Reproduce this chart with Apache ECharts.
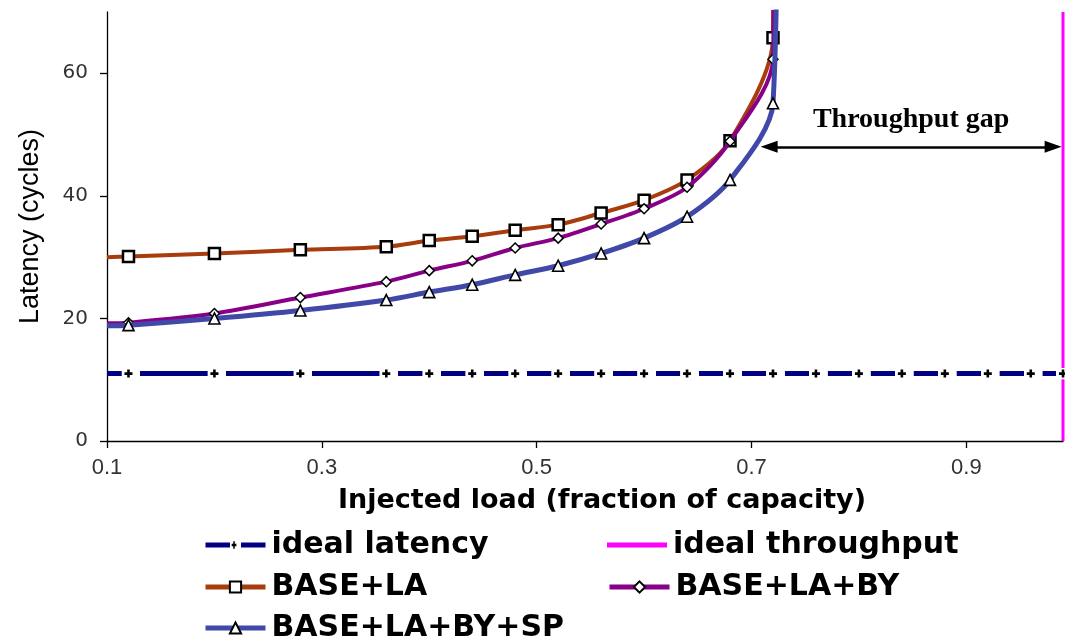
<!DOCTYPE html>
<html><head><meta charset="utf-8">
<script src="https://cdn.jsdelivr.net/npm/echarts@6/dist/echarts.min.js"></script>
<style>html,body{margin:0;padding:0;background:#fff}#c{width:1065px;height:643px}</style>
</head><body><div id="c"></div>
<script>
// ---- data ----
const xTicks = [0.1, 0.3, 0.5, 0.7, 0.9];
const yTicks = [0, 20, 40, 60];

const idealLatencyX = [0.1, 0.12, 0.2, 0.28, 0.36, 0.4, 0.44, 0.48, 0.52, 0.56, 0.6, 0.64, 0.68, 0.72, 0.76, 0.8, 0.84, 0.88, 0.92, 0.96, 0.99];
const idealLatencyY = [11, 11, 11, 11, 11, 11, 11, 11, 11, 11, 11, 11, 11, 11, 11, 11, 11, 11, 11, 11, 11];

const idealThroughputX = [0.99, 0.99];
const idealThroughputY = [0, 70];

const baseLaX = [0.1, 0.12, 0.2, 0.28, 0.36, 0.4, 0.44, 0.48, 0.52, 0.56, 0.6, 0.64, 0.68, 0.72, 0.7205];
const baseLaY = [30.0, 30.1, 30.6, 31.2, 31.7, 32.7, 33.4, 34.4, 35.3, 37.2, 39.3, 42.6, 49.0, 65.8, 100];

const baseLaByX = [0.1, 0.12, 0.2, 0.28, 0.36, 0.4, 0.44, 0.48, 0.52, 0.56, 0.6, 0.64, 0.68, 0.72, 0.7215];
const baseLaByY = [19.2, 19.3, 20.8, 23.4, 26.0, 27.8, 29.4, 31.5, 33.1, 35.4, 37.9, 41.4, 48.9, 62.3, 100];

const baseLaBySpX = [0.1, 0.12, 0.2, 0.28, 0.36, 0.4, 0.44, 0.48, 0.52, 0.56, 0.6, 0.64, 0.68, 0.72, 0.7245];
const baseLaBySpY = [18.8, 18.9, 20.0, 21.3, 23.0, 24.3, 25.5, 27.1, 28.6, 30.6, 33.1, 36.6, 42.6, 55.1, 100];

const gapArrowX = [0.7164, 0.9808];
const gapArrowY = 48;
const gapLabel = 'Throughput gap';

// ---- helpers ----
function pts(xs, ys, hideLast) {
  return xs.map((x, i) => {
    const p = { value: [x, ys[i]] };
    if (i === 0 || (hideLast && i === xs.length - 1)) p.symbol = 'none';
    return p;
  });
}
const plusSvg = '<svg xmlns="http://www.w3.org/2000/svg" width="19" height="12" viewBox="0 0 19 12"><rect width="19" height="12" fill="#ffffff"/><path d="M7 2V10M3 6H11" stroke="#000000" stroke-width="2.6"/></svg>';
const plusSymbol = 'image://data:image/svg+xml;charset=utf-8,' + encodeURIComponent(plusSvg);

const legendText = { fontFamily: 'DejaVu Sans', fontWeight: 'bold', fontSize: 30, color: '#000', lineHeight: 30, padding: [0, 0, 0, 1] };
function legendItem(name, left, top, icon) {
  const item = icon ? { name: name, icon: icon } : name;
  return {
    data: [item], orient: 'horizontal', left: left, top: top, padding: 0,
    itemWidth: 60, itemHeight: 14, selectedMode: false, symbolKeepAspect: true,
    textStyle: legendText, lineStyle: { width: 5 }
  };
}

const chart = echarts.init(document.getElementById('c'), null, { renderer: 'canvas' });
chart.setOption({
  animation: false,
  backgroundColor: '#ffffff',
  grid: { left: 107, right: 2, top: 12, bottom: 202, containLabel: false },
  xAxis: {
    type: 'value', min: 0.1, max: 0.99, interval: 0.1,
    name: 'Injected load (fraction of capacity)', nameLocation: 'middle', nameGap: 46,
    nameTextStyle: { fontFamily: 'DejaVu Sans', fontWeight: 'bold', fontSize: 27, color: '#000', padding: [0, 0, 0, 34] },
    axisLine: { show: true, onZero: false, lineStyle: { color: '#000', width: 1.3 } },
    axisTick: { show: true, inside: false, length: 7, customValues: xTicks, lineStyle: { color: '#000', width: 1.3 } },
    axisLabel: { customValues: xTicks, margin: 16, fontFamily: 'Liberation Sans', fontSize: 22, color: '#333', formatter: v => v.toFixed(1) },
    splitLine: { show: false }
  },
  yAxis: {
    type: 'value', min: 0, max: 70, interval: 20,
    name: 'Latency (cycles)', nameLocation: 'middle', nameGap: 63, nameRotate: 90,
    nameTextStyle: { fontFamily: 'Liberation Sans', fontSize: 27, color: '#000' },
    axisLine: { show: true, onZero: false, lineStyle: { color: '#000', width: 1.3 } },
    axisTick: { show: true, inside: false, length: 7, customValues: yTicks, lineStyle: { color: '#000', width: 1.3 } },
    axisLabel: { customValues: yTicks, margin: 19, fontFamily: 'DejaVu Sans', fontSize: 20, color: '#333' },
    splitLine: { show: false }
  },
  legend: [
    legendItem('ideal latency', 203, 530),
    legendItem('ideal throughput', 607, 530, 'path://M0,0H60V5H0Z'),
    legendItem('BASE+LA', 203, 572),
    legendItem('BASE+LA+BY', 607, 572),
    legendItem('BASE+LA+BY+SP', 203, 613)
  ],
  series: [
    {
      name: 'ideal throughput', type: 'line', symbol: 'none',
      data: pts(idealThroughputX, idealThroughputY, false),
      lineStyle: { color: '#ff00ff', width: 3 }, itemStyle: { color: '#ff00ff' },
      markLine: {
        silent: true, symbol: ['triangle', 'triangle'], symbolSize: [12, 17],
        lineStyle: { color: '#000', width: 2.5, type: 'solid' },
        label: { show: true, position: 'middle', distance: 13, formatter: gapLabel, fontFamily: 'Liberation Serif', fontWeight: 'bold', fontSize: 28, color: '#000' },
        data: [[{ coord: [gapArrowX[0], gapArrowY] }, { coord: [gapArrowX[1], gapArrowY] }]]
      },
      z: 2
    },
    {
      name: 'ideal latency', type: 'line',
      symbol: plusSymbol, symbolSize: [19, 12], symbolOffset: [2.5, 0], symbolKeepAspect: false,
      data: pts(idealLatencyX, idealLatencyY, false),
      lineStyle: { color: '#000080', width: 5 }, itemStyle: { color: '#000080' },
      z: 3
    },
    {
      name: 'BASE+LA', type: 'line', smooth: 0.3,
      symbol: 'rect', symbolSize: 11,
      data: pts(baseLaX, baseLaY, true),
      lineStyle: { color: '#a83c0c', width: 4 },
      itemStyle: { color: '#ffffff', borderColor: '#000', borderWidth: 2.5 },
      z: 4
    },
    {
      name: 'BASE+LA+BY', type: 'line', smooth: 0.3,
      symbol: 'diamond', symbolSize: [10, 10],
      data: pts(baseLaByX, baseLaByY, true),
      lineStyle: { color: '#880088', width: 4 },
      itemStyle: { color: '#ffffff', borderColor: '#000', borderWidth: 1.5 },
      z: 5
    },
    {
      name: 'BASE+LA+BY+SP', type: 'line', smooth: 0.3,
      symbol: 'triangle', symbolSize: 11,
      data: pts(baseLaBySpX, baseLaBySpY, true),
      lineStyle: { color: '#4048a8', width: 5 },
      itemStyle: { color: '#ffffff', borderColor: '#000', borderWidth: 1.6 },
      z: 6
    }
  ]
});
</script>
</body></html>
